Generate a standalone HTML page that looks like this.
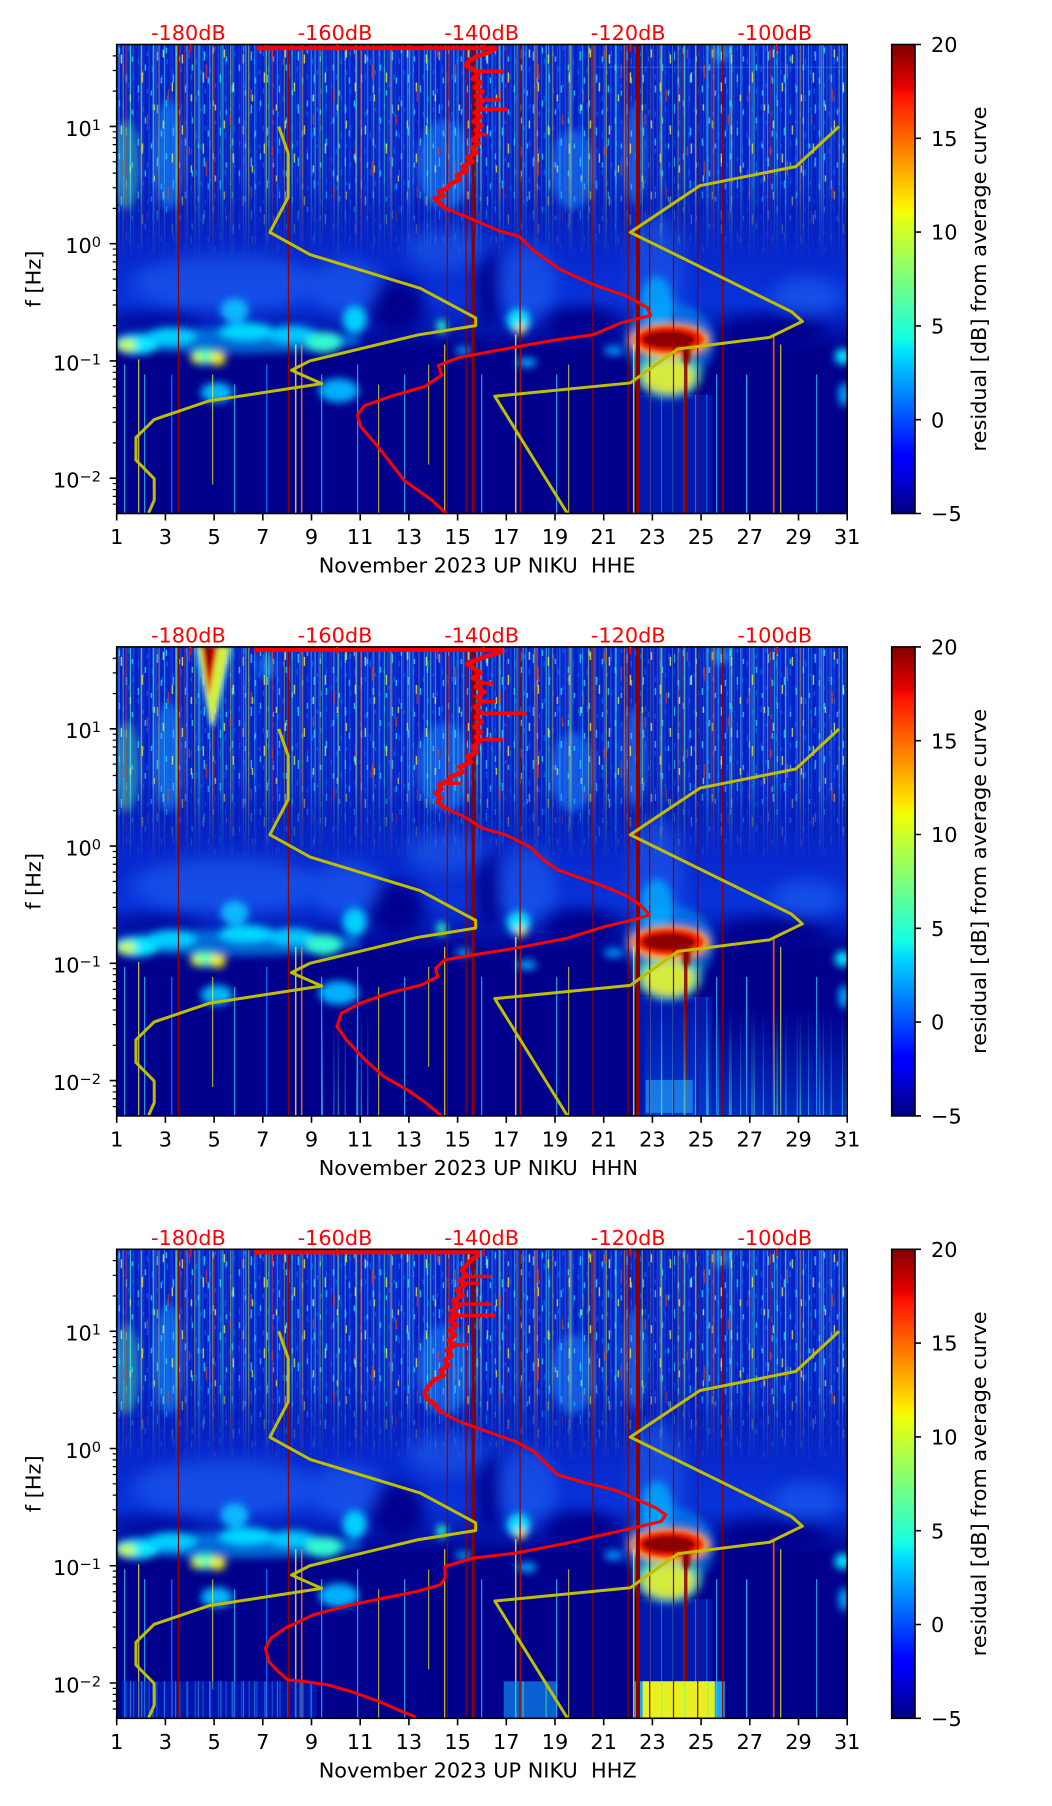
<!DOCTYPE html>
<html><head><meta charset="utf-8"><style>
html,body{margin:0;padding:0;background:#fff;}
svg{display:block;}
text{font-family:"DejaVu Sans","Liberation Sans",sans-serif;font-size:20.83px;}
</style></head><body>
<svg xmlns="http://www.w3.org/2000/svg" xmlns:xlink="http://www.w3.org/1999/xlink" width="1052" height="1806" viewBox="0 0 1052 1806">
<defs>
<clipPath id="pc"><rect x="0" y="0" width="730.5" height="469"/></clipPath>
<filter id="b2" x="-50%" y="-50%" width="200%" height="200%"><feGaussianBlur stdDeviation="2"/></filter>
<filter id="b4" x="-50%" y="-50%" width="200%" height="200%"><feGaussianBlur stdDeviation="4"/></filter>
<filter id="b8" x="-50%" y="-50%" width="200%" height="200%"><feGaussianBlur stdDeviation="8"/></filter>
<linearGradient id="gUp" x1="0" y1="0" x2="0" y2="305" gradientUnits="userSpaceOnUse">
<stop offset="0" stop-color="#0a30d8" stop-opacity="0.72"/>
<stop offset="0.48" stop-color="#0a30d8" stop-opacity="0.65"/>
<stop offset="0.55" stop-color="#0a30d8" stop-opacity="0.6"/>
<stop offset="0.68" stop-color="#0a36e4" stop-opacity="0.72"/>
<stop offset="0.84" stop-color="#0a40ee" stop-opacity="0.8"/>
<stop offset="0.92" stop-color="#0a40ee" stop-opacity="0.45"/>
<stop offset="1" stop-color="#0a40ee" stop-opacity="0"/>
</linearGradient>
<linearGradient id="gFade" x1="0" y1="0" x2="0" y2="215" gradientUnits="userSpaceOnUse">
<stop offset="0" stop-color="#fff" stop-opacity="1"/>
<stop offset="0.6" stop-color="#fff" stop-opacity="0.9"/>
<stop offset="0.75" stop-color="#fff" stop-opacity="0.5"/>
<stop offset="1" stop-color="#fff" stop-opacity="0"/>
</linearGradient>
<linearGradient id="gBot" x1="0" y1="360" x2="0" y2="469" gradientUnits="userSpaceOnUse">
<stop offset="0" stop-color="#fff" stop-opacity="0"/>
<stop offset="1" stop-color="#fff" stop-opacity="1"/>
</linearGradient>
<mask id="mUp" maskUnits="userSpaceOnUse" x="0" y="0" width="731" height="469"><rect width="730.5" height="215" fill="url(#gFade)"/></mask>
<mask id="mBot" maskUnits="userSpaceOnUse" x="0" y="0" width="731" height="469"><rect y="360" width="730.5" height="109" fill="url(#gBot)"/></mask>
<pattern id="s1" width="11.3" height="10" patternUnits="userSpaceOnUse"><rect x="2" width="1" height="10" fill="#40d8ff"/></pattern>
<pattern id="s2" width="17.9" height="10" patternUnits="userSpaceOnUse"><rect x="6" width="1" height="10" fill="#ffe800"/></pattern>
<pattern id="s3" width="7.7" height="10" patternUnits="userSpaceOnUse"><rect x="1" width="1.2" height="10" fill="#2060ff"/></pattern>
<pattern id="s4" width="29.3" height="10" patternUnits="userSpaceOnUse"><rect x="9" width="1" height="10" fill="#ff2a00"/></pattern>
<pattern id="s5" width="23.1" height="10" patternUnits="userSpaceOnUse"><rect x="13" width="1.4" height="10" fill="#50ffa0"/></pattern>
<pattern id="s6" width="5.3" height="10" patternUnits="userSpaceOnUse"><rect x="0" width="1.2" height="10" fill="#0a44f8"/></pattern>
<pattern id="p7" width="47" height="53" patternUnits="userSpaceOnUse"><g fill="#30e8ff">
<rect x="2" y="3" width="1.3" height="6"/><rect x="9" y="30" width="1.3" height="8"/><rect x="15" y="12" width="1.3" height="5"/><rect x="21" y="41" width="1.3" height="7"/>
<rect x="28" y="20" width="1.3" height="6"/><rect x="34" y="46" width="1.3" height="5"/><rect x="40" y="7" width="1.3" height="9"/><rect x="44" y="33" width="1.3" height="6"/></g></pattern>
<pattern id="p8" width="61" height="71" patternUnits="userSpaceOnUse"><g fill="#ffff30">
<rect x="4" y="10" width="1.3" height="9"/><rect x="13" y="50" width="1.3" height="7"/><rect x="25" y="28" width="1.3" height="10"/>
<rect x="37" y="60" width="1.3" height="6"/><rect x="46" y="5" width="1.3" height="8"/><rect x="55" y="38" width="1.3" height="9"/></g></pattern>
<pattern id="p9" width="29" height="37" patternUnits="userSpaceOnUse"><g fill="#0070ff">
<rect x="1" y="7" width="1.2" height="5"/><rect x="6" y="22" width="1.2" height="6"/><rect x="11" y="2" width="1.2" height="4"/>
<rect x="16" y="30" width="1.2" height="5"/><rect x="21" y="14" width="1.2" height="6"/><rect x="26" y="26" width="1.2" height="4"/></g></pattern>
<pattern id="p10" width="83" height="97" patternUnits="userSpaceOnUse"><g fill="#ff4000">
<rect x="6" y="20" width="1.2" height="14"/><rect x="30" y="70" width="1.2" height="10"/><rect x="51" y="45" width="1.2" height="12"/><rect x="72" y="5" width="1.2" height="9"/></g></pattern>
<linearGradient id="jet" x1="0" y1="1" x2="0" y2="0">
<stop offset="0" stop-color="#000080"/><stop offset="0.11" stop-color="#0000ff"/><stop offset="0.125" stop-color="#0000ff"/>
<stop offset="0.34" stop-color="#00dbff"/><stop offset="0.375" stop-color="#15ffe2"/><stop offset="0.5" stop-color="#7bff7b"/>
<stop offset="0.64" stop-color="#eeff08"/><stop offset="0.66" stop-color="#ffec00"/><stop offset="0.89" stop-color="#ff1300"/>
<stop offset="0.91" stop-color="#e80000"/><stop offset="1" stop-color="#800000"/>
</linearGradient>

<g id="bg">
<rect width="730.5" height="469" fill="#00008c"/>
<rect width="730.5" height="305" fill="url(#gUp)"/>
<g filter="url(#b8)" fill="#00008c">
<ellipse cx="280" cy="262" rx="28" ry="28"/>
<ellipse cx="372" cy="245" rx="12" ry="40"/>
<ellipse cx="465" cy="280" rx="38" ry="18"/>
<ellipse cx="655" cy="287" rx="55" ry="16"/>
<ellipse cx="40" cy="277" rx="45" ry="6"/>
<ellipse cx="160" cy="305" rx="25" ry="10"/>
</g>
<g filter="url(#b8)" fill="#2a7cff" opacity="0.38">
<ellipse cx="110" cy="238" rx="95" ry="28"/>
<ellipse cx="230" cy="242" rx="35" ry="28"/>
<ellipse cx="410" cy="238" rx="30" ry="38"/>
<ellipse cx="540" cy="225" rx="26" ry="55"/>
<ellipse cx="690" cy="252" rx="35" ry="20"/>
<ellipse cx="330" cy="205" rx="40" ry="22"/>
</g>
<g filter="url(#b4)" opacity="0.5">
<ellipse cx="10" cy="120" rx="12" ry="45" fill="#50f0a0"/>
<ellipse cx="52" cy="110" rx="14" ry="55" fill="#20b0ff"/>
<ellipse cx="328" cy="120" rx="28" ry="45" fill="#2098ff"/>
<ellipse cx="456" cy="125" rx="22" ry="40" fill="#2098ff"/>
<ellipse cx="518" cy="110" rx="12" ry="50" fill="#2098ff"/>
<ellipse cx="604" cy="8" rx="8" ry="10" fill="#40ffd0"/>
</g>
<g mask="url(#mUp)">
<rect width="730.5" height="215" fill="url(#s6)" opacity="0.55"/>
<rect width="730.5" height="215" fill="url(#s3)" opacity="0.5"/>
<rect width="730.5" height="215" fill="url(#p9)" opacity="0.8"/>
<rect width="730.5" height="215" fill="url(#s1)" opacity="0.55"/>
<rect width="730.5" height="215" fill="url(#p7)" opacity="0.85"/>
<rect width="730.5" height="215" fill="url(#s2)" opacity="0.5"/>
<rect width="730.5" height="215" fill="url(#p8)" opacity="0.85"/>
<rect width="730.5" height="215" fill="url(#s5)" opacity="0.5"/>
<rect width="730.5" height="215" fill="url(#s4)" opacity="0.5"/>
<rect width="730.5" height="215" fill="url(#p10)" opacity="0.75"/>
</g>
<g filter="url(#b4)">
<ellipse cx="120" cy="296" rx="125" ry="13" fill="#00a8ff" opacity="0.6"/>
<ellipse cx="20" cy="300" rx="22" ry="10" fill="#10e8ff"/>
<ellipse cx="10" cy="301" rx="9" ry="6" fill="#c8ff30"/>
<ellipse cx="55" cy="292" rx="25" ry="9" fill="#00d0ff"/>
<ellipse cx="88" cy="312" rx="14" ry="8" fill="#40ffc0"/>
<ellipse cx="101" cy="314" rx="8" ry="7" fill="#f0f000"/>
<ellipse cx="80" cy="314" rx="6" ry="5" fill="#d0ff20"/>
<ellipse cx="130" cy="287" rx="28" ry="9" fill="#00d8ff"/>
<ellipse cx="118" cy="266" rx="14" ry="12" fill="#10b8ff"/>
<ellipse cx="175" cy="290" rx="25" ry="9" fill="#00c8ff"/>
<ellipse cx="207" cy="298" rx="18" ry="10" fill="#30f8d0"/>
<ellipse cx="238" cy="275" rx="12" ry="14" fill="#00d0ff"/>
<ellipse cx="100" cy="348" rx="16" ry="10" fill="#00b8ff"/>
<ellipse cx="222" cy="346" rx="20" ry="12" fill="#00b0ff"/>
<ellipse cx="325" cy="282" rx="5" ry="7" fill="#20ffd0"/>
<ellipse cx="402" cy="276" rx="12" ry="12" fill="#10e0ff"/>
<ellipse cx="404" cy="285" rx="5" ry="5" fill="#f0e000"/>
<ellipse cx="347" cy="306" rx="9" ry="4" fill="#00a0ff"/>
<ellipse cx="410" cy="318" rx="10" ry="5" fill="#00a0ff"/>
<ellipse cx="497" cy="306" rx="10" ry="5" fill="#0090ff"/>
<ellipse cx="726" cy="312" rx="8" ry="8" fill="#00e8ff"/>
<ellipse cx="727" cy="350" rx="5" ry="12" fill="#00b0ff"/>
<ellipse cx="540" cy="258" rx="16" ry="26" fill="#00b8ff" opacity="0.7"/>
</g>
<rect x="520" y="350" width="75" height="119" fill="#0050ff" opacity="0.3"/>
<rect x="520" y="350" width="75" height="119" fill="url(#s1)" opacity="0.45"/>
<g filter="url(#b4)">
<ellipse cx="553" cy="298" rx="45" ry="40" fill="#00b0ff" opacity="0.5"/>
<ellipse cx="552" cy="330" rx="34" ry="24" fill="#40e8c0" opacity="0.7"/>
<ellipse cx="552" cy="332" rx="26" ry="17" fill="#e8f030" opacity="0.9"/>
<ellipse cx="553" cy="296" rx="40" ry="17" fill="#ffb000"/>
</g>
<g filter="url(#b2)">
<ellipse cx="553" cy="295" rx="34" ry="13" fill="#ff2000"/>
<ellipse cx="552" cy="295" rx="27" ry="9" fill="#8c0000"/>
<ellipse cx="570" cy="310" rx="4" ry="10" fill="#8c0000"/>
</g>
<g opacity="0.85">
<line x1="8" y1="320" x2="8" y2="469" stroke="#30e0ff" stroke-width="1"/>
<line x1="22" y1="315" x2="22" y2="469" stroke="#f0f020" stroke-width="1.2"/>
<line x1="28" y1="330" x2="28" y2="469" stroke="#30e0ff" stroke-width="1"/>
<line x1="55" y1="330" x2="55" y2="469" stroke="#1070ff" stroke-width="1.5"/>
<line x1="96" y1="330" x2="96" y2="440" stroke="#f0f020" stroke-width="1"/>
<line x1="118" y1="340" x2="118" y2="469" stroke="#30e0ff" stroke-width="1"/>
<line x1="150" y1="320" x2="150" y2="469" stroke="#1070ff" stroke-width="1.5"/>
<line x1="179" y1="300" x2="179" y2="469" stroke="#f0f020" stroke-width="1.5"/>
<line x1="185" y1="300" x2="185" y2="469" stroke="#ff8000" stroke-width="1.5"/>
<line x1="205" y1="330" x2="205" y2="469" stroke="#30e0ff" stroke-width="1"/>
<line x1="241" y1="320" x2="241" y2="469" stroke="#30e0ff" stroke-width="1"/>
<line x1="262" y1="340" x2="262" y2="469" stroke="#f0f020" stroke-width="1"/>
<line x1="288" y1="330" x2="288" y2="469" stroke="#30e0ff" stroke-width="1"/>
<line x1="312" y1="320" x2="312" y2="420" stroke="#f0f020" stroke-width="1"/>
<line x1="328" y1="300" x2="328" y2="469" stroke="#f0f020" stroke-width="1.2"/>
<line x1="365" y1="330" x2="365" y2="469" stroke="#30e0ff" stroke-width="1"/>
<line x1="399" y1="290" x2="399" y2="469" stroke="#f0f020" stroke-width="1.5"/>
<line x1="404" y1="300" x2="404" y2="469" stroke="#ff3000" stroke-width="1"/>
<line x1="440" y1="330" x2="440" y2="469" stroke="#30e0ff" stroke-width="1"/>
<line x1="452" y1="320" x2="452" y2="469" stroke="#f0f020" stroke-width="1"/>
<line x1="517" y1="300" x2="517" y2="469" stroke="#f0f020" stroke-width="1.5"/>
<line x1="569" y1="305" x2="569" y2="469" stroke="#8c0000" stroke-width="3.5"/>
<line x1="600" y1="330" x2="600" y2="469" stroke="#30e0ff" stroke-width="1"/>
<line x1="630" y1="330" x2="630" y2="469" stroke="#30e0ff" stroke-width="1.2"/>
<line x1="657" y1="290" x2="657" y2="469" stroke="#ff6000" stroke-width="1.8"/>
<line x1="664" y1="300" x2="664" y2="469" stroke="#f0f020" stroke-width="1.2"/>
<line x1="700" y1="330" x2="700" y2="469" stroke="#30e0ff" stroke-width="1"/>
</g>
</g>

<g id="vl" stroke="#8c0000" fill="none">
<line x1="61.8" y1="0" x2="61.8" y2="469" stroke-width="1.2"/>
<line x1="171.8" y1="0" x2="171.8" y2="469" stroke-width="1.2"/>
<line x1="330.6" y1="0" x2="330.6" y2="469" stroke-width="1.2"/>
<line x1="349.4" y1="0" x2="349.4" y2="469" stroke-width="1.2"/>
<line x1="356.5" y1="0" x2="356.5" y2="469" stroke-width="3"/>
<line x1="403.4" y1="0" x2="403.4" y2="469" stroke-width="1.2"/>
<line x1="476.2" y1="0" x2="476.2" y2="469" stroke-width="1.2"/>
<line x1="511.5" y1="0" x2="511.5" y2="469" stroke-width="1.2"/>
<line x1="521.3" y1="0" x2="521.3" y2="469" stroke-width="4"/>
<line x1="533" y1="0" x2="533" y2="469" stroke-width="1.2"/>
<line x1="556.8" y1="0" x2="556.8" y2="469" stroke-width="1.2"/>
<line x1="581" y1="0" x2="581" y2="469" stroke-width="1.2"/>
<line x1="606" y1="0" x2="606" y2="469" stroke-width="1.2"/>
</g>

<g id="nm" fill="none" stroke="#bfbf00" stroke-width="3" stroke-linejoin="round">
<polyline points="162.0,81.95 171.5,108.97 171.5,152.55 153.2,187.84 193.5,210.16 303.7,243.79 359.0,273.48 359.0,281.16 301.2,290.45 193.1,316.45 174.8,325.74 205.0,339.10 92.4,356.37 37.5,375.04 19.2,393.04 19.2,415.54 37.5,434.21 37.55,455.69 31.25,470"/>
<polyline points="722.4,81.95 679.1,122.10 583.2,141.18 513.6,187.84 674.75,267.18 685.7,276.91 652.8,292.93 561.2,304.45 513.6,338.44 378.1,351.75 451.4,470"/>
</g>

<g id="axes">
<rect x="0" y="0" width="730.5" height="469" fill="none" stroke="#000" stroke-width="1.6"/>
<path d="M0,469v7M48.7,469v7M97.4,469v7M146.1,469v7M194.8,469v7M243.5,469v7M292.2,469v7M340.9,469v7M389.6,469v7M438.3,469v7M487,469v7M535.7,469v7M584.4,469v7M633.1,469v7M681.8,469v7M730.5,469v7" stroke="#000" stroke-width="1.6" fill="none"/>
<path d="M0,81.95h-7M0,199.2h-7M0,316.45h-7M0,433.7h-7" stroke="#000" stroke-width="1.6" fill="none"/>
<path d="M0,46.65h-4M0,26.01h-4M0,11.36h-4M0,163.9h-4M0,143.26h-4M0,128.61h-4M0,117.25h-4M0,107.96h-4M0,100.11h-4M0,93.31h-4M0,87.32h-4M0,281.15h-4M0,260.51h-4M0,245.86h-4M0,234.5h-4M0,225.21h-4M0,217.36h-4M0,210.56h-4M0,204.57h-4M0,398.4h-4M0,377.76h-4M0,363.11h-4M0,351.75h-4M0,342.46h-4M0,334.61h-4M0,327.81h-4M0,321.82h-4M0,459.71h-4M0,451.86h-4M0,445.06h-4M0,439.07h-4" stroke="#000" stroke-width="1.2" fill="none"/>
<g text-anchor="middle" fill="#000">
<text x="0" y="499.7">1</text><text x="48.7" y="499.7">3</text><text x="97.4" y="499.7">5</text><text x="146.1" y="499.7">7</text>
<text x="194.8" y="499.7">9</text><text x="243.5" y="499.7">11</text><text x="292.2" y="499.7">13</text><text x="340.9" y="499.7">15</text>
<text x="389.6" y="499.7">17</text><text x="438.3" y="499.7">19</text><text x="487" y="499.7">21</text><text x="535.7" y="499.7">23</text>
<text x="584.4" y="499.7">25</text><text x="633.1" y="499.7">27</text><text x="681.8" y="499.7">29</text><text x="730.5" y="499.7">31</text>
</g>
<g text-anchor="end" fill="#000">
<text x="-15.7" y="91.25">10<tspan dy="-6" font-size="14.6">1</tspan></text>
<text x="-15.7" y="208.5">10<tspan dy="-6" font-size="14.6">0</tspan></text>
<text x="-15.7" y="325.75">10<tspan dy="-6" font-size="14.6">−1</tspan></text>
<text x="-15.7" y="443">10<tspan dy="-6" font-size="14.6">−2</tspan></text>
</g>
<text transform="translate(-76.2,234.5) rotate(-90)" text-anchor="middle" fill="#000">f [Hz]</text>
<g fill="#ff0000">
<rect x="72.7" y="0" width="2.2" height="7"/><rect x="219.3" y="0" width="2.2" height="7"/><rect x="365.9" y="0" width="2.2" height="7"/><rect x="512.5" y="0" width="2.2" height="7"/><rect x="659.1" y="0" width="2.2" height="7"/>
</g>
<g fill="#ff0000" text-anchor="middle">
<text x="71.7" y="-4.5">-180dB</text><text x="218.3" y="-4.5">-160dB</text><text x="364.9" y="-4.5">-140dB</text><text x="511.5" y="-4.5">-120dB</text><text x="658.1" y="-4.5">-100dB</text>
</g>
</g>

<g id="cb">
<rect x="0" y="0" width="23.3" height="469" fill="url(#jet)" stroke="#000" stroke-width="1.6"/>
<path d="M23.3,0h6M23.3,93.8h6M23.3,187.6h6M23.3,281.4h6M23.3,375.2h6M23.3,469h6" stroke="#000" stroke-width="1.6"/>
<g fill="#000">
<text x="39.3" y="7.6">20</text><text x="39.3" y="101.4">15</text><text x="39.3" y="195.2">10</text>
<text x="39.3" y="289">5</text><text x="39.3" y="382.8">0</text><text x="39.3" y="476.6">−5</text>
</g>
<text transform="translate(94.3,234.5) rotate(-90)" text-anchor="middle" fill="#000">residual [dB] from average curve</text>
</g>
</defs>

<!-- PANEL 1 -->
<g transform="translate(116.7,44.5)">
<g clip-path="url(#pc)">
<use xlink:href="#bg" href="#bg"/>
<line x1="480" y1="22.8" x2="730" y2="22.8" stroke="#30c0ff" stroke-width="1" opacity="0.4"/>
<use xlink:href="#vl" href="#vl"/>
<use xlink:href="#nm" href="#nm"/>
<g fill="none" stroke="#ff0000" stroke-linejoin="round" stroke-linecap="round">
<polyline points="142.9,3.6 378.9,3.6" stroke-width="4"/>
<polyline stroke-width="4.5" points="378.9,4 372,8 360,12 352,17 349,21 357,25 362,30 356,34 364,38 358,43 366,47 359,52 367,56 360,60 366,64 358,68 364,72 357,77 365,81 359,86 364,90 356,95 362,99 355,104 360,108 351,113 356,117 346,122 350,126 340,131 343,135 333,140 330,144 323,147 327,151 318,154 322,158 328,163.2"/>
<polyline stroke-width="3" points="328,163.2 355.3,174.7 382.3,186.3 402.5,192 416,205.5 443,224.7 476.7,240.1 510.4,251.7 530.6,263.2 534,270.9 503.7,278.6 476.7,290.1 436.2,295.9 382.3,305.5 341.8,313.2 321.6,320.9 325,330.5 308.1,342 274.4,351.7 247.4,361.3 240.7,370.9 244.1,382.4 260.9,401.7 287.9,436.3 314.9,455.5 331.7,471"/>
<path stroke-width="3.5" d="M358,26.7H385.7M362,55.5H382M362,65H389M360,90H369"/>
</g>
<circle cx="142.9" cy="3.6" r="3" fill="#ff0000"/>
</g>
<use xlink:href="#axes" href="#axes"/>
<text x="202" y="528" fill="#000" xml:space="preserve" style="white-space:pre">November 2023 UP NIKU  HHE</text>
</g>
<g transform="translate(891.7,44.5)"><use xlink:href="#cb" href="#cb"/></g>

<!-- PANEL 2 -->
<g transform="translate(116.7,646.9)">
<g clip-path="url(#pc)">
<use xlink:href="#bg" href="#bg"/>
<g mask="url(#mBot)">
<rect x="528" y="360" width="204" height="109" fill="#0060ff" opacity="0.45"/>
<rect x="528" y="360" width="204" height="109" fill="url(#s1)" opacity="0.7"/>
<rect x="528" y="360" width="204" height="109" fill="url(#s5)" opacity="0.6"/>
<rect x="203" y="360" width="52" height="109" fill="url(#s1)" opacity="0.6"/>
<rect x="203" y="360" width="52" height="109" fill="url(#s5)" opacity="0.5"/>
</g>
<rect x="529" y="433" width="47" height="33" fill="#30c0ff" opacity="0.5"/>
<g filter="url(#b2)">
<polygon points="77,0 117,0 98,80 93,80" fill="#00c8ff" opacity="0.6"/>
<polygon points="81,0 113,0 97,76 94,76" fill="#d0f040"/>
<polygon points="85,0 101,0 92,50" fill="#e00000"/>
<polygon points="88,0 97,0 92,30" fill="#900000"/>
</g>
<ellipse cx="150" cy="20" rx="8" ry="12" fill="#20c0ff" opacity="0.5" filter="url(#b4)"/>
<use xlink:href="#vl" href="#vl"/>
<use xlink:href="#nm" href="#nm"/>
<g fill="none" stroke="#ff0000" stroke-linejoin="round" stroke-linecap="round">
<polyline points="140.3,3 384.6,3" stroke-width="4"/>
<polyline stroke-width="4.5" points="384.6,5 368,10 350,17 358,22 364,26 356,31 366,36 359,40 368,45 360,50 366,55 358,60 364,65 359,70 365,75 358,80 364,85 359,90 363,95 356,100 360,105 350,110 354,115 343,120 346,125 334,130 331,134 322,138 325,142 319,146 324,151 321,155 328,161"/>
<polyline stroke-width="3" points="328,161 347,169.7 365.8,181.3 389.3,188 412.9,199.7 427,213 441,223 459.8,229.7 488,239.7 511.5,249.7 525.6,259.7 532.7,268 516.2,273 488,279.7 450.5,291.3 398.7,301.3 356.5,308 328.2,313 318.9,321.3 321.2,329.7 304.8,338 271.9,346.3 243.6,356.3 224.8,366.3 220.2,379.7 229.6,393 248.4,413 267.2,429.7 290.7,443 309.5,456.3 323.6,468 325,472"/>
<path stroke-width="3.5" d="M363,66.3H408.2M360,93H384.8M364,54.7H377.6M366,36.3H375.3M330,136.3H342.4"/>
</g>
<circle cx="140.3" cy="3" r="3" fill="#ff0000"/>
</g>
<use xlink:href="#axes" href="#axes"/>
<text x="202" y="528" fill="#000" xml:space="preserve" style="white-space:pre">November 2023 UP NIKU  HHN</text>
</g>
<g transform="translate(891.7,646.9)"><use xlink:href="#cb" href="#cb"/></g>

<!-- PANEL 3 -->
<g transform="translate(116.7,1249.3)">
<g clip-path="url(#pc)">
<use xlink:href="#bg" href="#bg"/>
<rect x="5" y="432" width="195" height="37" fill="#0030d0" opacity="0.45"/>
<rect x="5" y="432" width="195" height="37" fill="url(#s1)" opacity="0.55"/>
<rect x="5" y="432" width="195" height="37" fill="url(#s3)" opacity="0.7"/>
<rect x="387" y="432" width="53" height="37" fill="#10a0ff" opacity="0.6"/>
<rect x="387" y="432" width="53" height="37" fill="url(#s5)" opacity="0.5"/>
<rect x="518" y="432" width="90" height="37" fill="#20d0ff" opacity="0.8"/>
<rect x="526" y="432" width="72" height="37" fill="#e8f020"/>
<rect x="526" y="432" width="72" height="37" fill="url(#s5)" opacity="0.5"/>
<use xlink:href="#vl" href="#vl"/>
<use xlink:href="#nm" href="#nm"/>
<g fill="none" stroke="#ff0000" stroke-linejoin="round" stroke-linecap="round">
<polyline points="140.3,3 361.2,3" stroke-width="4"/>
<polyline stroke-width="4.5" points="361.2,6 354,11 350,16 345,21 350,26 343,31 348,36 340,41 346,46 337,51 343,56 335,61 341,66 334,71 340,76 333,81 339,86 332,91 338,96 330,101 335,106 328,111 332,116 324,121 327,126 317,131 312,137 308,143 310,149 318,155 323,162"/>
<polyline stroke-width="3" points="323,162 342.4,172.2 370.5,182.2 398.7,192.2 417.5,202.2 427,212.2 441,225.5 469.2,233.8 497.4,240.5 520.9,250.5 539.7,258.8 549.1,265.5 544.4,272.2 516.2,278.8 478.6,287.2 450.5,293.8 398.7,303.8 356.5,308.8 328.2,317.2 328.2,328.8 323.6,335.5 300.1,342.2 267.2,348.8 234.3,355.5 196.7,365.5 168.4,378.8 154.4,388.8 148.8,398.8 152,412.2 161.4,422.2 170.8,430.5 187.2,432.2 210.8,435.5 234.3,442.2 262.5,452.2 281.3,460.5 297.7,467.2 301,472"/>
<path stroke-width="3.5" d="M348,27.2H372.9M345,33.8H361M337,54.8H372.9M335,66.2H377.6M334,95.5H349.4"/>
</g>
<circle cx="140.3" cy="3" r="3" fill="#ff0000"/>
</g>
<use xlink:href="#axes" href="#axes"/>
<text x="202" y="528" fill="#000" xml:space="preserve" style="white-space:pre">November 2023 UP NIKU  HHZ</text>
</g>
<g transform="translate(891.7,1249.3)"><use xlink:href="#cb" href="#cb"/></g>
</svg>
</body></html>
